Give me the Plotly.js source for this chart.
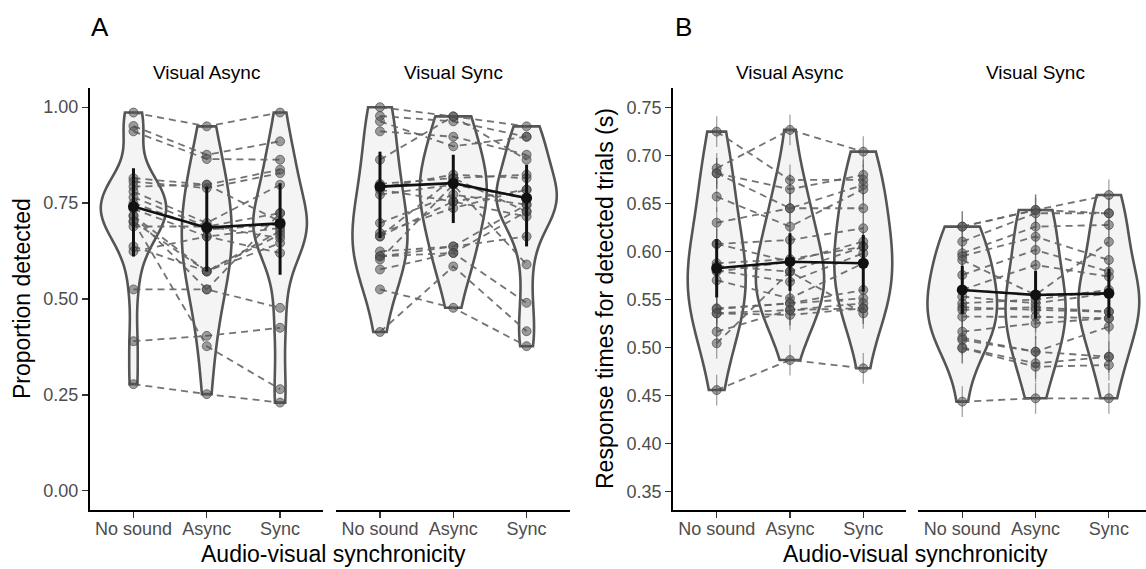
<!DOCTYPE html>
<html>
<head>
<meta charset="utf-8">
<script src="https://cdn.plot.ly/plotly-3.0.1.min.js"></script>
<style>html,body{margin:0;padding:0;background:#fff;}#chart{width:1146px;height:569px;}</style>
</head>
<body>
<div id="chart"></div>
<script>
// ---------- DATA ----------
const categories = ['No sound', 'Async', 'Sync'];
const facetTitles = ['Visual Async', 'Visual Sync'];
const panelLabels = ['A', 'B'];
const xTitle = 'Audio-visual synchronicity';
const yTitleA = 'Proportion detected';
const yTitleB = 'Response times for detected trials (s)';
const tickValsA = [0, 0.25, 0.5, 0.75, 1.0];
const tickValsB = [0.35, 0.40, 0.45, 0.50, 0.55, 0.60, 0.65, 0.70, 0.75];

// Panel A, Visual Async (participant i in the same position in each array)
const propVAsyncNoSound = [0.986,0.951,0.937,0.815,0.806,0.793,0.780,0.765,0.750,0.735,0.717,0.702,0.689,0.637,0.624,0.717,0.525,0.390,0.278,0.702];
const propVAsyncAsync   = [0.950,0.876,0.865,0.798,0.789,0.798,0.698,0.689,0.681,0.663,0.572,0.572,0.689,0.572,0.663,0.525,0.525,0.404,0.252,0.377];
const propVAsyncSync    = [0.986,0.911,0.863,0.837,0.828,0.702,0.798,0.724,0.694,0.685,0.677,0.668,0.659,0.646,0.620,0.477,0.724,0.425,0.230,0.265];
// Panel A, Visual Sync
const propVSyncNoSound = [1.000,0.977,0.963,0.937,0.863,0.800,0.790,0.785,0.772,0.698,0.672,0.663,0.663,0.624,0.611,0.611,0.603,0.577,0.525,0.414];
const propVSyncAsync   = [0.976,0.963,0.898,0.923,0.976,0.815,0.824,0.754,0.798,0.772,0.737,0.815,0.754,0.637,0.620,0.637,0.798,0.620,0.477,0.585];
const propVSyncSync    = [0.950,0.923,0.923,0.876,0.863,0.824,0.815,0.785,0.763,0.746,0.785,0.728,0.715,0.746,0.728,0.663,0.590,0.490,0.377,0.416];
// Panel B, Visual Async (RT, s)
const rtVAsyncNoSound = [0.7246,0.6865,0.6813,0.6813,0.6570,0.6299,0.6078,0.6078,0.5877,0.5850,0.5800,0.5790,0.5700,0.5408,0.5400,0.5356,0.5356,0.5165,0.5044,0.4558];
const rtVAsyncAsync   = [0.6743,0.7264,0.6647,0.6449,0.6258,0.6449,0.6119,0.5893,0.5920,0.5790,0.5685,0.5893,0.5512,0.5460,0.5460,0.5391,0.5339,0.5391,0.5790,0.4870];
const rtVAsyncSync    = [0.6744,0.7038,0.6796,0.6692,0.6647,0.6449,0.6241,0.6102,0.6049,0.6049,0.5981,0.5877,0.5877,0.5599,0.5512,0.5460,0.5408,0.5408,0.5356,0.4784];
// Panel B, Visual Sync
const rtVSyncNoSound = [0.6258,0.6258,0.6102,0.5981,0.5950,0.5911,0.5755,0.5600,0.5600,0.5530,0.5460,0.5420,0.5391,0.5321,0.5165,0.5100,0.5079,0.5000,0.4992,0.4437];
const rtVSyncAsync   = [0.6431,0.6431,0.6397,0.6258,0.6153,0.5547,0.6015,0.5859,0.5550,0.5460,0.5500,0.5391,0.5420,0.5320,0.5252,0.4957,0.4957,0.4836,0.4800,0.4472];
const rtVSyncSync    = [0.6587,0.6397,0.6397,0.6275,0.5911,0.6100,0.5790,0.5738,0.5564,0.5564,0.5600,0.5373,0.5373,0.5304,0.5304,0.5217,0.4904,0.4904,0.4818,0.4472];

// Summary (mean and interval)
const propVAsyncMean = [0.741, 0.686, 0.697];
const propVAsyncLow  = [0.611, 0.572, 0.563];
const propVAsyncHigh = [0.841, 0.793, 0.802];
const propVSyncMean  = [0.793, 0.802, 0.763];
const propVSyncLow   = [0.659, 0.698, 0.637];
const propVSyncHigh  = [0.884, 0.876, 0.850];
const rtVAsyncMean = [0.5825, 0.5893, 0.5877];
const rtVAsyncLow  = [0.552, 0.559, 0.558];
const rtVAsyncHigh = [0.613, 0.619, 0.617];
const rtVSyncMean  = [0.5599, 0.5547, 0.5564];
const rtVSyncLow   = [0.535, 0.530, 0.531];
const rtVSyncHigh  = [0.585, 0.580, 0.582];
const rtParticipantErr = 0.016;

// ---------- STYLE ----------
const W = 1146, H = 569;
const plotTop = 88, plotBottom = 510;
const FONT = 'Liberation Sans, Arial, Helvetica, sans-serif';
const facetPx = [[89.5, 323.3], [336, 570], [672.7, 906], [918.3, 1146]];
const violinWidths = [[0.89,0.68,0.73],[0.75,0.91,0.82],[0.79,0.93,0.79],[0.95,0.82,0.83]];
const bwScale = 1.35;

function nrd0(v) {
  const n = v.length;
  const m = v.reduce((a,b)=>a+b,0)/n;
  const sd = Math.sqrt(v.reduce((a,b)=>a+(b-m)*(b-m),0)/(n-1));
  const s = v.slice().sort((a,b)=>a-b);
  const q = p => { const h=(n-1)*p, lo=Math.floor(h), hi=Math.ceil(h); return s[lo]+(h-lo)*(s[hi]-s[lo]); };
  const iqr = q(0.75)-q(0.25);
  let lo = Math.min(sd, iqr/1.34);
  if (!(lo > 0)) lo = sd || 1;
  return 0.9*lo*Math.pow(n,-0.2);
}

const facets = [
  {xa:'x',  ya:'y',  cols:[propVAsyncNoSound,propVAsyncAsync,propVAsyncSync], mean:propVAsyncMean, lo:propVAsyncLow, hi:propVAsyncHigh, indiv:false},
  {xa:'x2', ya:'y',  cols:[propVSyncNoSound,propVSyncAsync,propVSyncSync],   mean:propVSyncMean,  lo:propVSyncLow,  hi:propVSyncHigh,  indiv:false},
  {xa:'x3', ya:'y2', cols:[rtVAsyncNoSound,rtVAsyncAsync,rtVAsyncSync],     mean:rtVAsyncMean,   lo:rtVAsyncLow,   hi:rtVAsyncHigh,   indiv:true},
  {xa:'x4', ya:'y2', cols:[rtVSyncNoSound,rtVSyncAsync,rtVSyncSync],        mean:rtVSyncMean,    lo:rtVSyncLow,    hi:rtVSyncHigh,    indiv:true}
];

const traces = [];
facets.forEach((f, fi) => {
  f.cols.forEach((vals, ci) => {
    traces.push({
      type:'violin', x0: ci+1, y: vals, xaxis:f.xa, yaxis:f.ya,
      width: violinWidths[fi][ci], scalemode:'width', spanmode:'hard',
      bandwidth: nrd0(vals)*bwScale, points:false, box:{visible:false}, meanline:{visible:false},
      line:{color:'#555555', width:2.6}, fillcolor:'#f4f4f4',
      hoverinfo:'skip', showlegend:false, name:''
    });
  });
});
facets.forEach((f) => {
  const lx = [], ly = [];
  for (let p = 0; p < f.cols[0].length; p++) {
    for (let c = 0; c < 3; c++) { lx.push(c+1); ly.push(f.cols[c][p]); }
    lx.push(null); ly.push(null);
  }
  traces.push({type:'scatter', mode:'lines', x:lx, y:ly, xaxis:f.xa, yaxis:f.ya,
    line:{color:'rgba(100,100,100,0.9)', width:1.8, dash:'7px,5px'}, hoverinfo:'skip', showlegend:false});
});
facets.forEach((f) => {
  f.cols.forEach((vals, ci) => {
    const t = {type:'scatter', mode:'markers', x: vals.map(()=>ci+1), y: vals, xaxis:f.xa, yaxis:f.ya,
      marker:{size:9, color:'rgba(80,80,80,0.55)', line:{color:'rgba(60,60,60,0.6)', width:1}},
      hoverinfo:'skip', showlegend:false};
    if (f.indiv) t.error_y = {type:'constant', value: rtParticipantErr, color:'rgba(90,90,90,0.55)', thickness:1.3, width:0};
    traces.push(t);
  });
});
facets.forEach((f) => {
  traces.push({type:'scatter', mode:'lines+markers', x:[1,2,3], y:f.mean, xaxis:f.xa, yaxis:f.ya,
    line:{color:'#111111', width:2.6}, marker:{size:11, color:'#111111'},
    error_y:{type:'data', array: f.hi.map((h,i)=>h-f.mean[i]), arrayminus: f.mean.map((m,i)=>m-f.lo[i]),
      color:'#111111', thickness:3, width:0},
    hoverinfo:'skip', showlegend:false});
});

function xaxisDef(fi, anchor) {
  const pxW = 73.3;
  const [a, b] = facetPx[fi];
  const right = 0.4 + (b - a) / pxW;
  return {domain:[a/W, b/W], anchor: anchor, type:'linear', range:[0.4, right],
    tickvals:[1,2,3], ticktext:categories, showline:true, linecolor:'#000', linewidth:1.6,
    ticks:'outside', ticklen:6, tickwidth:1.2, tickcolor:'#333', showgrid:false, zeroline:false,
    ticklabelstandoff:-4,
    tickfont:{family:FONT, size:18, color:'#4d4d4d'}, fixedrange:true};
}
const pyToPaper = py => (plotBottom - py) / (plotBottom - plotTop);
const ann = (text, px, py, size, extra) => Object.assign({text, x: px/W, y: pyToPaper(py), xref:'paper', yref:'paper',
  xanchor:'center', yanchor:'middle', showarrow:false, font:{family:FONT, size, color:'#000'}}, extra||{});

const yCommon = {showline:true, linecolor:'#000', linewidth:1.6, ticks:'outside', ticklen:6, tickwidth:1.2, tickcolor:'#333',
    showgrid:false, zeroline:false, tickfont:{family:FONT, size:18, color:'#4d4d4d'}, fixedrange:true, tickformat:'.2f'};

const layout = {
  width: W, height: H, margin:{l:0, r:0, t:plotTop, b:H-plotBottom},
  paper_bgcolor:'#fff', plot_bgcolor:'rgba(0,0,0,0)', showlegend:false, violinmode:'overlay',
  xaxis: xaxisDef(0,'y'), xaxis2: xaxisDef(1,'y'), xaxis3: xaxisDef(2,'y2'), xaxis4: xaxisDef(3,'y2'),
  yaxis: Object.assign({domain:[0,1], anchor:'x', range:[-0.05,1.05], tickvals:tickValsA}, yCommon),
  yaxis2: Object.assign({domain:[0,1], anchor:'x3', range:[0.331,0.770], tickvals:tickValsB}, yCommon),
  annotations: [
    ann(panelLabels[0], 100, 27, 26),
    ann(panelLabels[1], 683, 27, 26),
    ann(facetTitles[0], (facetPx[0][0]+facetPx[0][1])/2, 72, 19),
    ann(facetTitles[1], (facetPx[1][0]+facetPx[1][1])/2, 72, 19),
    ann(facetTitles[0], (facetPx[2][0]+facetPx[2][1])/2, 72, 19),
    ann(facetTitles[1], 1035, 72, 19),
    ann(xTitle, 333, 554, 23),
    ann(xTitle, 915, 554, 23),
    ann(yTitleA, 22, (plotTop+plotBottom)/2, 23, {textangle:-90}),
    ann(yTitleB, 605, (plotTop+plotBottom)/2, 23, {textangle:-90})
  ]
};

Plotly.newPlot('chart', traces, layout, {staticPlot:true, displayModeBar:false});
</script>
</body>
</html>
